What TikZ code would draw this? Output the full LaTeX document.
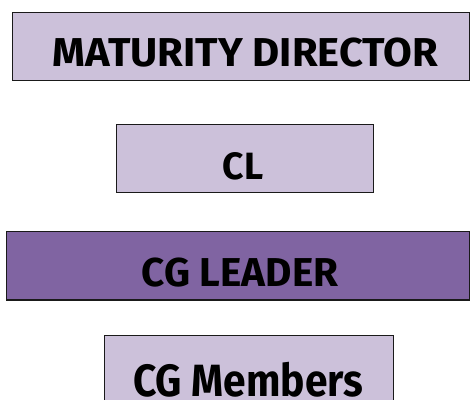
\documentclass[tikz,border=0pt]{standalone}
\usepackage{fontspec}
\setmainfont{Fira Sans}
\definecolor{lightlav}{HTML}{CCC1DA}
\definecolor{darklav}{HTML}{8064A2}
\definecolor{edge}{HTML}{1A1A1A}
\newcommand{\fittxt}[3]{\resizebox{#1}{#2}{\bfseries #3}}
\begin{document}
\begin{tikzpicture}[x=1pt,y=1pt,
  box/.style={draw=edge, line width=1.3pt, rectangle, inner sep=0pt, anchor=south west},
  lbl/.style={anchor=base, font=\fontsize{40}{40}\selectfont, text=black, inner sep=0pt}]
\useasboundingbox (0,0) rectangle (470,399);
\begin{scope}
\clip (0,0) rectangle (470,399);
\node[box, fill=lightlav, minimum width=457pt, minimum height=68pt] (md) at (12,318) {};
\node[box, fill=lightlav, minimum width=257pt, minimum height=68pt] (cl) at (116,205.5) {};
\node[box, fill=darklav, minimum width=463pt, minimum height=68.5pt] (cgl) at (5.7,98.5) {};
\node[box, fill=lightlav, minimum width=288.5pt, minimum height=68pt] (cgm) at (104,-5) {};
\end{scope}
\node[lbl] (tmd) at (245.5,332.3) {\fittxt{385.6pt}{28.6pt}{MATURITY DIRECTOR}};
\node[lbl] (tcl) at (243,219.7) {\fittxt{40.6pt}{27pt}{CL}};
\node[lbl] (tcgl) at (240,112.3) {\fittxt{196.6pt}{28.6pt}{CG LEADER}};
\node[lbl] (tcgm) at (248.2,3) {\fittxt{230pt}{34.3pt}{CG Members}};
\end{tikzpicture}
\end{document}
